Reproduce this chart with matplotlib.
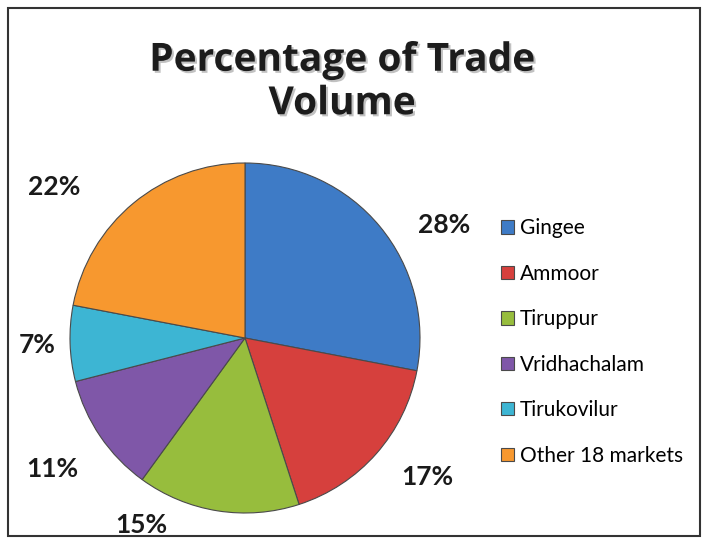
import numpy as np
import matplotlib.pyplot as plt
import matplotlib.patches as patches
import matplotlib.patheffects as pe

plt.rcParams['font.family'] = ['Lato', 'DejaVu Sans']

markets = ['Gingee', 'Ammoor', 'Tiruppur', 'Vridhachalam', 'Tirukovilur', 'Other 18 markets']
share = [28, 17, 15, 11, 7, 22]
colors = ['#3e7bc6', '#d6403d', '#97bd3d', '#7f57a8', '#3db5d3', '#f7982f']

fig = plt.figure(figsize=(7.09, 5.44), dpi=100)

# pie axes: square box, centre ~ (245, 338) px, radius ~175 px
ax = fig.add_axes([70 / 709, 31 / 544, 350 / 709, 350 / 544])
wedges, texts, autotexts = ax.pie(share, colors=colors, startangle=90, counterclock=False,
                                  autopct='%d%%', pctdistance=1.3, radius=1,
                                  wedgeprops=dict(edgecolor='#4a4a4a', linewidth=0.8),
                                  textprops=dict(fontsize=19, fontweight='bold', color='#1a1a1a'))
ax.set_xlim(-1, 1)
ax.set_ylim(-1, 1)
ax.set_aspect('equal')

# nudge a few labels round the pie like the excel "best fit"
nudge = [-10, 4, -20, 0, 0, 12]
dist = [1.31, 1.31, 1.22, 1.33, 1.19, 1.39]
start = 90
for t, s, d, r in zip(autotexts, share, nudge, dist):
    mid = start - s * 3.6 / 2
    start -= s * 3.6
    a = np.deg2rad(mid + d)
    t.set_position((r * np.cos(a), r * np.sin(a)))

fig.legend(wedges, markets, loc='upper left', bbox_to_anchor=(491 / 709, 1 - 208 / 544),
           frameon=False, fontsize=15, handlelength=0.6, handleheight=0.6,
           handletextpad=0.3, labelspacing=1.22, borderpad=0)

fig.text(342 / 709, 1 - 82 / 544, 'Percentage of Trade\nVolume', ha='center', va='center',
         family='Open Sans', fontsize=28, fontweight='bold', color='#1c1c1c', linespacing=1.15,
         path_effects=[pe.withSimplePatchShadow(offset=(1.5, -1.5), shadow_rgbFace='#999999', alpha=0.6)])

fig.patches.append(patches.Rectangle((8 / 709, 8 / 544), 692 / 709, 528 / 544, transform=fig.transFigure,
                                     fill=False, edgecolor='#333333', linewidth=1.5))

fig.savefig('out.png', dpi=100)
